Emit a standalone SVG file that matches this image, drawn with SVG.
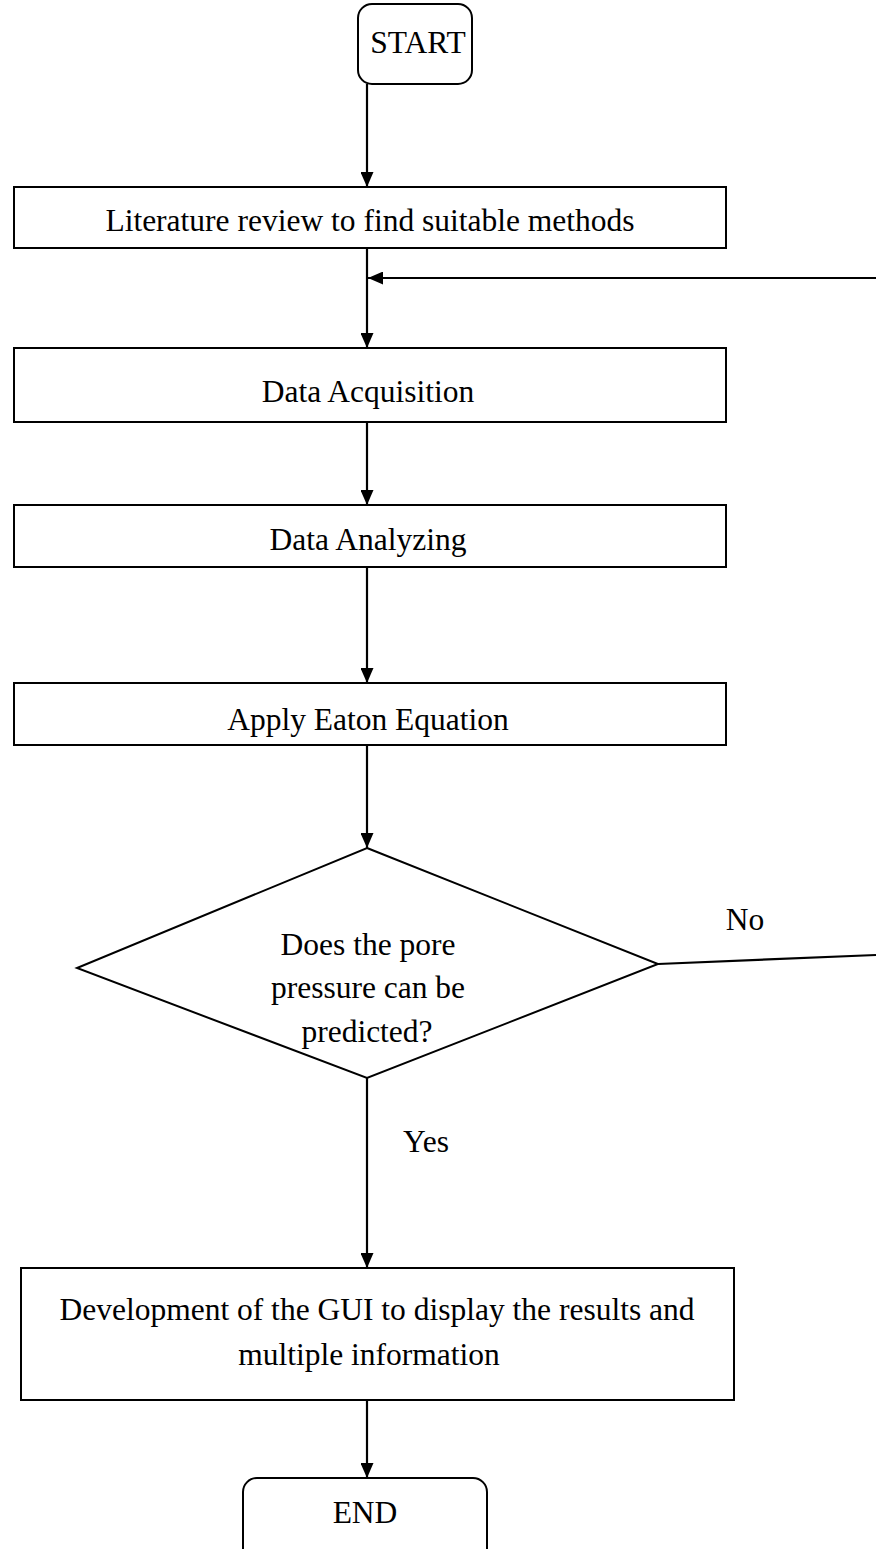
<svg xmlns="http://www.w3.org/2000/svg" width="876" height="1549" viewBox="0 0 876 1549">
<defs>
<marker id="arr" markerWidth="15" markerHeight="13" refX="15" refY="6.5" orient="auto" markerUnits="userSpaceOnUse">
<path d="M0,0 L15,6.5 L0,13 Z" fill="#000"/>
</marker>
<style>
.box{fill:#fff;stroke:#000;stroke-width:2}
.ln{fill:none;stroke:#000;stroke-width:2.2}
.t{font-family:"Liberation Serif","Times New Roman",serif;font-size:31.5px;fill:#000;text-anchor:middle}
</style>
</defs>
<rect width="876" height="1549" fill="#fff"/>
<g id="connectors">
<line class="ln" x1="367" y1="84" x2="367" y2="187" marker-end="url(#arr)"/>
<line class="ln" x1="367" y1="248" x2="367" y2="348" marker-end="url(#arr)"/>
<line class="ln" x1="876" y1="278" x2="368" y2="278" marker-end="url(#arr)"/>
<line class="ln" x1="367" y1="422" x2="367" y2="505" marker-end="url(#arr)"/>
<line class="ln" x1="367" y1="567" x2="367" y2="683" marker-end="url(#arr)"/>
<line class="ln" x1="367" y1="745" x2="367" y2="848" marker-end="url(#arr)"/>
<line class="ln" x1="658" y1="964" x2="876" y2="955"/>
<line class="ln" x1="367" y1="1078" x2="367" y2="1268" marker-end="url(#arr)"/>
<line class="ln" x1="367" y1="1400" x2="367" y2="1478" marker-end="url(#arr)"/>
<text class="t" x="745" y="930">No</text>
<text class="t" x="426" y="1152">Yes</text>
</g>
<g id="start">
<rect class="box" x="358" y="4" width="114" height="80" rx="14"/>
<text class="t" x="418" y="53">START</text>
</g>
<g id="literature">
<rect class="box" x="14" y="187" width="712" height="61"/>
<text class="t" x="370" y="231">Literature review to find suitable methods</text>
</g>
<g id="acquisition">
<rect class="box" x="14" y="348" width="712" height="74"/>
<text class="t" x="368" y="402">Data Acquisition</text>
</g>
<g id="analyzing">
<rect class="box" x="14" y="505" width="712" height="62"/>
<text class="t" x="368" y="550">Data Analyzing</text>
</g>
<g id="eaton">
<rect class="box" x="14" y="683" width="712" height="62"/>
<text class="t" x="368" y="730">Apply Eaton Equation</text>
</g>
<g id="decision">
<polygon class="box" points="367,848 658,964 367,1078 77,968"/>
<text class="t" x="368" y="955">Does the pore</text>
<text class="t" x="368" y="998">pressure can be</text>
<text class="t" x="367" y="1042">predicted?</text>
</g>
<g id="gui">
<rect class="box" x="21" y="1268" width="713" height="132"/>
<text class="t" x="377" y="1320">Development of the GUI to display the results and</text>
<text class="t" x="369" y="1365">multiple information</text>
</g>
<g id="end">
<rect class="box" x="243" y="1478" width="244" height="100" rx="14"/>
<text class="t" x="365" y="1523">END</text>
</g>
</svg>
